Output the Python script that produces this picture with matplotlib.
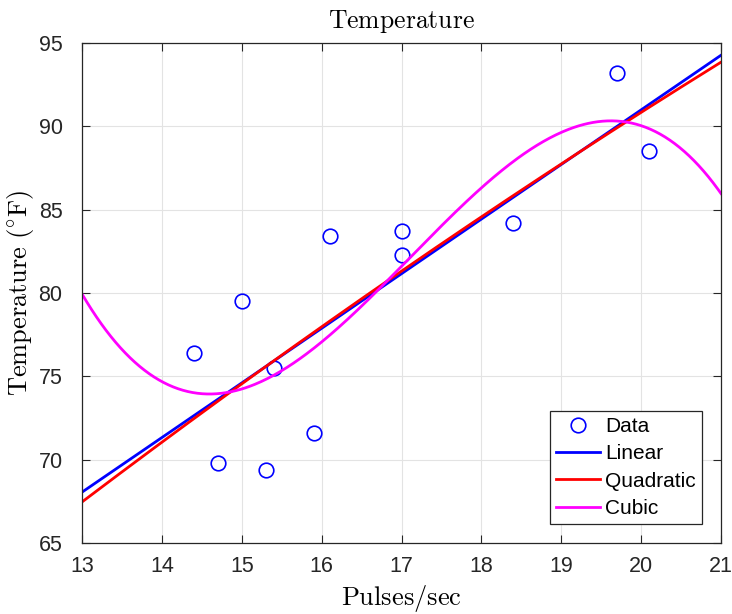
import numpy as np
import matplotlib
matplotlib.use('Agg')
import matplotlib.pyplot as plt

plt.rcParams['font.family'] = ['Liberation Sans', 'DejaVu Sans']
plt.rcParams['mathtext.fontset'] = 'cm'

# Datos
pulsos = [14.4, 14.7, 15.0, 15.3, 15.4, 15.9, 16.1, 17.0, 17.0, 18.4, 19.7, 20.1]
temperatura = [76.4, 69.8, 79.5, 69.4, 75.5, 71.6, 83.4, 83.7, 82.3, 84.2, 93.2, 88.5]

x_ticks = [13, 14, 15, 16, 17, 18, 19, 20, 21]
y_ticks = [65, 70, 75, 80, 85, 90, 95]

# Ajustes polinomicos
xx = np.linspace(13, 21, 400)
p1 = np.polyfit(pulsos, temperatura, 1)
p2 = np.polyfit(pulsos, temperatura, 2)
p3 = np.polyfit(pulsos, temperatura, 3)

fig = plt.figure(figsize=(7.32, 6.14), dpi=100)
ax = fig.add_axes([82 / 732, 1 - 543 / 614, 639 / 732, 500 / 614])

ax.plot(pulsos, temperatura, 'o', mfc='none', mec='blue', ms=10.5, mew=1.2, label='Data')
ax.plot(xx, np.polyval(p1, xx), color='blue', lw=2, label='Linear')
ax.plot(xx, np.polyval(p2, xx), color='red', lw=2, label='Quadratic')
ax.plot(xx, np.polyval(p3, xx), color='magenta', lw=2, label='Cubic')

ax.set_xlim(13, 21)
ax.set_ylim(65, 95)
ax.set_xticks(x_ticks)
ax.set_yticks(y_ticks)
ax.grid(True, color='#e3e3e3', lw=0.8)
ax.set_axisbelow(True)
ax.tick_params(direction='in', top=True, right=True, length=6, width=0.8,
               labelsize=15.5, colors='#262626')
ax.tick_params(axis='x', pad=9)
ax.tick_params(axis='y', pad=14)
for s in ax.spines.values():
    s.set_color('#262626')
    s.set_linewidth(0.9)

ax.set_title(r'$\mathrm{Temperature}$', fontsize=18.5, pad=11)
ax.set_xlabel(r'$\mathrm{Pulses/sec}$', fontsize=19, labelpad=5)
ax.set_ylabel(r'$\mathrm{Temperature\ (^{\circ}F)}$', fontsize=19, labelpad=2)

leg = ax.legend(loc='lower right', fontsize=15, fancybox=False, framealpha=1,
                edgecolor='#262626', handlelength=2.1, borderpad=0.3,
                labelspacing=0.4, handletextpad=0.25, borderaxespad=0.9)
leg.get_frame().set_linewidth(0.9)

fig.savefig('out.png', dpi=100)
